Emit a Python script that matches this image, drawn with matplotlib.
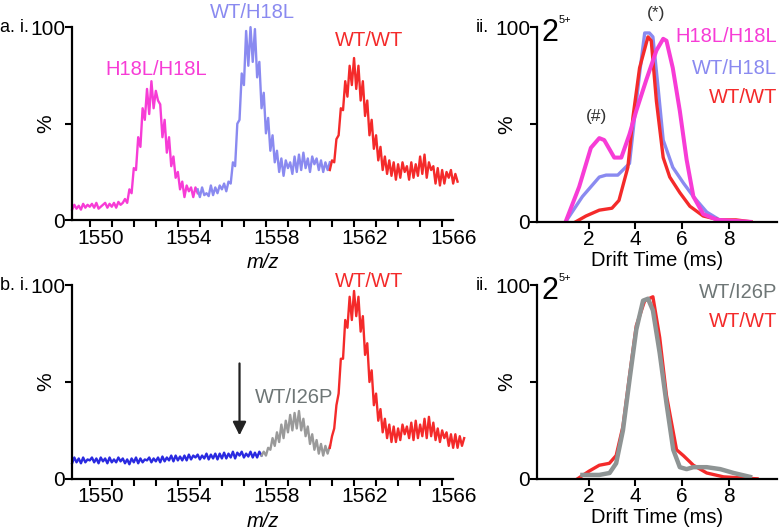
import numpy as np
import matplotlib
matplotlib.use('Agg')
import matplotlib.pyplot as plt

plt.rcParams['font.family'] = ['Liberation Sans', 'DejaVu Sans']
plt.rcParams['font.size'] = 14.5

PINK = '#f73cd6'
LAV = '#8a8af0'
RED = '#f42a2a'
BLUE = '#2a2ae0'
GREY = '#9a9a9a'
GREY_TXT = '#6e7676'

# ---- a.i mass spectrum (m/z start, 0.1 step) ----
a_pink_start = 1548.7
a_pink = [5.5, 8, 6, 7.5, 5.5, 8.5, 6.5, 8, 7, 8.5, 6.5, 9, 6, 7, 8, 9, 6.5, 8.5, 7, 9,
          6.5, 9.5, 8, 9, 11,
          9, 16, 14, 27, 26, 43, 38, 58, 52, 68, 55, 72, 58, 67, 62, 60, 43, 52, 35, 43,
          28, 33, 22, 25, 16, 20, 12, 18, 15, 17, 12, 17, 14]
a_lav_start = 1554.4
a_lav = [16, 12, 17, 13, 14, 12.5, 18, 13, 17, 14,
         18, 16, 19, 15, 20,
         19, 30, 28, 50, 52, 76, 70, 98, 80, 100, 82, 99, 74, 82,
         58, 66, 45, 53, 36, 44, 30, 36, 25, 32, 23, 31, 27, 30, 24, 33, 25, 34, 26, 35,
         27, 32, 25, 33, 29, 32, 26, 31, 25, 30, 26, 30]
a_red_start = 1560.4
a_red = [26, 31, 30, 42, 44, 58, 57, 72, 64, 80, 70, 84, 68, 80, 62, 72, 54, 62, 44, 52,
         37, 44, 31, 38, 26, 33, 24, 31, 23, 30, 21, 29, 22, 30, 25, 28, 21, 30, 22, 29,
         23, 33, 24, 34, 22, 30, 26, 28, 19, 27, 18, 26, 19, 25, 22, 26, 19, 24, 20]

# ---- b.i mass spectrum ----
b_blue_start = 1548.7
b_blue = [8, 11, 8.5, 10.5, 8, 11, 8.5, 10, 9.5, 11,
          8.5, 10.5, 8, 11, 9, 10.5, 8, 11, 8.5, 10,
          8.5, 11, 9, 10.5, 8, 10, 7.5, 10.5, 8.5, 11,
          8, 10.5, 8.5, 10, 9.5, 11, 8.5, 10.5, 9, 11,
          8.5, 11.5, 9, 11, 9.5, 12, 9, 12, 9.5, 11.5,
          9.5, 12, 9.5, 12.5, 10, 12, 11, 12.5, 10, 12,
          10.5, 13, 10, 12.5, 10.5, 13, 10, 13, 10.5, 13.5,
          10.5, 13, 11, 14, 10.5, 13.5, 12, 14, 11, 13,
          11.5, 14, 11, 13.5, 11, 14, 12]
b_grey_start = 1557.3
b_grey = [12, 14, 12, 16, 15, 21, 17, 24, 19, 28, 21, 30, 24, 33, 25, 34, 26, 35, 25, 31,
          22, 27, 18, 23, 15, 20, 13, 18, 12, 17, 13, 17]
b_red_start = 1560.4
b_red = [16, 22, 26, 38, 44, 62, 62, 82, 78, 94, 82, 97, 84, 94, 76, 84, 64, 70, 50, 56,
         38, 44, 30, 36, 24, 31, 21, 28, 19, 27, 19, 26, 20, 28, 23, 27, 21, 29, 20, 30,
         21, 28, 22, 31, 21, 32, 22, 29, 20, 26, 19, 25, 21, 24, 17, 23, 16, 23, 16, 22,
         17, 21]

# ---- a.ii drift time ----
a2_pink_t = [1.02, 1.6, 2.1, 2.46, 2.67, 3.1, 3.4, 3.75, 4.04, 4.47, 4.9, 5.19, 5.33,
             5.6, 5.9, 6.19, 6.48, 6.9, 7.5, 8.2, 8.9]
a2_pink_v = [0, 18, 38, 43, 42, 33, 33, 45, 57, 73, 88, 94, 93, 79, 57, 32, 13, 4, 1, 0.5, 0]
a2_lav_t = [1.02, 1.74, 2.46, 2.75, 3.25, 3.75, 3.97, 4.18, 4.4, 4.6, 4.75, 4.97, 5.19,
            5.6, 6.05, 6.48, 7.05, 7.6, 7.9]
a2_lav_v = [0, 13, 23, 24, 24, 30, 54, 76, 97, 97, 95, 69, 42, 28, 20, 13, 5, 1, 0]
a2_red_t = [1.45, 1.89, 2.46, 3.0, 3.3, 3.68, 3.9, 4.18, 4.54, 4.68, 4.9, 5.19, 5.47,
            5.9, 6.33, 6.9, 7.6, 8.3, 8.95]
a2_red_v = [0, 3, 6, 7, 11, 28, 54, 79, 95, 93, 62, 33, 23, 15, 8, 3, 1, 1, 0]

# ---- b.ii drift time ----
b2_grey_t = [1.74, 2.46, 2.9, 3.18, 3.47, 3.75, 4.04, 4.33, 4.54, 4.75, 5.04, 5.33,
             5.62, 5.9, 6.19, 6.48, 7.05, 7.63, 8.2, 8.9]
b2_grey_v = [2, 2, 3, 8, 25, 51, 77, 92, 93, 87, 65, 39, 15, 6, 5, 6, 6, 5, 3, 1]
b2_red_t = [1.53, 2.03, 2.46, 2.89, 3.18, 3.47, 3.75, 4.04, 4.4, 4.75, 5.04, 5.33,
            5.76, 6.05, 6.48, 7.05, 7.77, 8.49, 9.2]
b2_red_v = [0, 4, 7, 8, 12, 27, 53, 79, 92, 94, 73, 43, 15, 12, 7, 3, 1, 0.5, 0]

mz_labels = [1550, 1554, 1558, 1562, 1566]
dt_ticks = [2, 4, 6, 8]


def mz(start, vals):
    return np.round(start + 0.1 * np.arange(len(vals)), 1)


fig = plt.figure(figsize=(7.84, 5.32), dpi=100)
ax1 = fig.add_axes([0.092, 0.586, 0.486, 0.363])
ax2 = fig.add_axes([0.685, 0.583, 0.306, 0.366])
ax3 = fig.add_axes([0.092, 0.100, 0.486, 0.364])
ax4 = fig.add_axes([0.685, 0.100, 0.306, 0.364])


def style(ax, lab_x):
    for s in ['top', 'right']:
        ax.spines[s].set_visible(False)
    for s in ['left', 'bottom']:
        ax.spines[s].set_linewidth(1.6)
    ax.set_ylim(0, 100)
    ax.set_yticks([0, 50, 100])
    ax.set_yticklabels(['0', '', '100'])
    ax.tick_params(axis='both', which='both', direction='out', width=1.5, length=5,
                   pad=1, labelsize=15)
    ax.tick_params(axis='y', pad=0)
    ax.set_ylabel('%', fontsize=15)
    ax.yaxis.set_label_coords(lab_x, 0.5)


for ax in (ax1, ax3):
    style(ax, -0.045)
    ax.set_xlim(1548.7, 1566.0)
    ax.set_xticks(mz_labels)
    ax.set_xticks(np.arange(1549.5, 1566, 1), minor=True)
    ax.tick_params(axis='x', which='major', length=0, pad=6)
    ax.set_xlabel('m/z', style='italic', labelpad=4)

for ax in (ax2, ax4):
    style(ax, -0.085)
    ax.set_xlim(-0.2, 10.05)
    ax.set_xticks(dt_ticks)
    ax.set_xlabel('Drift Time (ms)', labelpad=1)
    ax.text(0.02, 0.97, '2', transform=ax.transAxes, fontsize=22, va='center', ha='left')
    ax.text(0.088, 1.035, '5+', transform=ax.transAxes, fontsize=8, va='center', ha='left')

lw = 1.7
ax1.plot(mz(a_pink_start, a_pink), a_pink, color=PINK, lw=lw, clip_on=False)
ax1.plot(mz(a_lav_start, a_lav), a_lav, color=LAV, lw=lw, clip_on=False)
ax1.plot(mz(a_red_start, a_red), a_red, color=RED, lw=lw, clip_on=False)
ax1.text(1552.5, 78, 'H18L/H18L', color=PINK, ha='center', va='center')
ax1.text(1556.9, 107.5, 'WT/H18L', color=LAV, ha='center', va='center')
ax1.text(1562.2, 93, 'WT/WT', color=RED, ha='center', va='center')

ax3.plot(mz(b_blue_start, b_blue), b_blue, color=BLUE, lw=lw, clip_on=False)
ax3.plot(mz(b_grey_start, b_grey), b_grey, color=GREY, lw=lw, clip_on=False)
ax3.plot(mz(b_red_start, b_red), b_red, color=RED, lw=lw, clip_on=False)
ax3.text(1558.8, 42, 'WT/I26P', color=GREY_TXT, ha='center', va='center')
ax3.text(1562.2, 102, 'WT/WT', color=RED, ha='center', va='center')
ax3.annotate('', xy=(1556.3, 21), xytext=(1556.3, 61),
             arrowprops=dict(arrowstyle='-|>', color='#222222', lw=1.6, mutation_scale=20))

ax2.plot(a2_lav_t, a2_lav_v, color=LAV, lw=2.4, solid_joinstyle='round')
ax2.plot(a2_red_t, a2_red_v, color=RED, lw=2.4, solid_joinstyle='round')
ax2.plot(a2_pink_t, a2_pink_v, color=PINK, lw=2.9, solid_joinstyle='round')
ax2.text(1.0, 0.95, 'H18L/H18L', color=PINK, ha='right', va='center', transform=ax2.transAxes)
ax2.text(1.0, 0.79, 'WT/H18L', color=LAV, ha='right', va='center', transform=ax2.transAxes)
ax2.text(1.0, 0.64, 'WT/WT', color=RED, ha='right', va='center', transform=ax2.transAxes)
ax2.text(4.9, 107, '(*)', color='#333333', fontsize=12.5, ha='center', va='center')
ax2.text(2.35, 54, '(#)', color='#333333', fontsize=12.5, ha='center', va='center')

ax4.plot(b2_red_t, b2_red_v, color=RED, lw=2.4, solid_joinstyle='round')
ax4.plot(b2_grey_t, b2_grey_v, color='#8e9494', lw=3.2, solid_joinstyle='round')
ax4.text(1.0, 0.96, 'WT/I26P', color=GREY_TXT, ha='right', va='center', transform=ax4.transAxes)
ax4.text(1.0, 0.81, 'WT/WT', color=RED, ha='right', va='center', transform=ax4.transAxes)

fig.text(0.0, 0.949, 'a. i.', va='center', ha='left', fontsize=13)
fig.text(0.607, 0.949, 'ii.', va='center', ha='left', fontsize=13)
fig.text(0.0, 0.464, 'b. i.', va='center', ha='left', fontsize=13)
fig.text(0.607, 0.464, 'ii.', va='center', ha='left', fontsize=13)

fig.savefig('out.png', dpi=100)
